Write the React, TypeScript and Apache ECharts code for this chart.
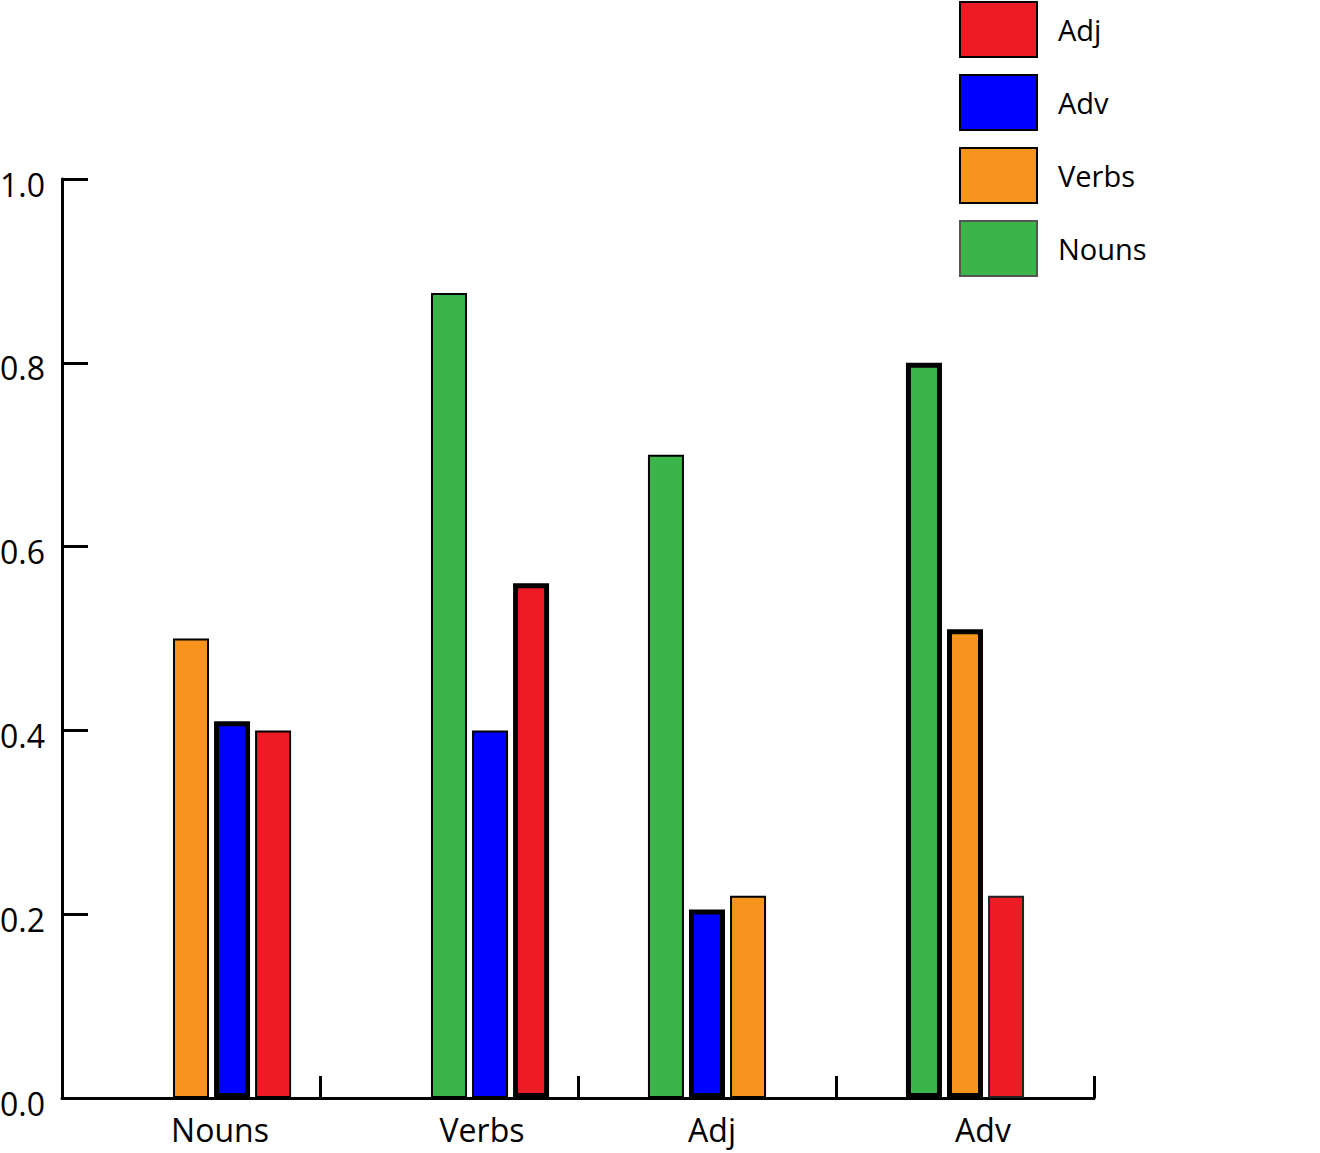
import React, { useEffect, useRef } from "react";
import * as echarts from "echarts";

const categories = ["Nouns", "Verbs", "Adj", "Adv"];
const nounsValues = [null, 0.876, 0.7, 0.8];
const verbsValues = [0.5, null, 0.22, 0.51];
const adjValues = [0.4, 0.56, null, 0.22];
const advValues = [0.41, 0.4, 0.205, null];
const legendOrder = ["Adj", "Adv", "Verbs", "Nouns"];
const yTicks = [0, 0.2, 0.4, 0.6, 0.8, 1.0];

// bar order inside each category group
const groupOrder = [
  ["Verbs", "Adv", "Adj"],
  ["Nouns", "Adv", "Adj"],
  ["Nouns", "Adv", "Verbs"],
  ["Nouns", "Verbs", "Adj"],
];

// layout / style settings (not data)
const SLOT_COUNT = 5;
const groupStartSlot = [2, 2, 1, 1];
const labelShift = [29, 33, 5, 18];
const colors: Record<string, string> = {
  Nouns: "#3BB54A",
  Verbs: "#F7941E",
  Adj: "#ED1C24",
  Adv: "#0000FF",
};
const thickBorder = new Set(["Nouns|Adv", "Verbs|Adj", "Adj|Adv", "Adv|Nouns", "Adv|Verbs"]);
const FONT = "Open Sans";

const valuesByName: Record<string, (number | null)[]> = {
  Nouns: nounsValues,
  Verbs: verbsValues,
  Adj: adjValues,
  Adv: advValues,
};

function buildSlotSeries() {
  const slots: any[] = [];
  for (let s = 0; s < SLOT_COUNT; s++) {
    const data = categories.map((cat, ci) => {
      const idx = s - groupStartSlot[ci];
      const order = groupOrder[ci];
      if (idx < 0 || idx >= order.length) return { value: null };
      const name = order[idx];
      const v = valuesByName[name][ci];
      const thick = thickBorder.has(cat + "|" + name);
      return {
        value: v,
        itemStyle: {
          color: colors[name],
          borderColor: name === "Adj" && cat === "Adv" ? "#222" : "#000",
          borderWidth: thick ? 5 : 2,
        },
      };
    });
    slots.push({
      type: "bar",
      name: "slot" + s,
      xAxisIndex: 0,
      data,
      barWidth: 36,
      barGap: "14%",
      silent: true,
    });
  }
  return slots;
}

export default function App() {
  const ref = useRef<HTMLDivElement>(null);
  useEffect(() => {
    if (!ref.current) return;
    const chart = echarts.init(ref.current, null, { renderer: "svg" });
    const rich: any = {};
    categories.forEach((c, i) => {
      rich["c" + i] = {
        fontFamily: FONT,
        fontSize: 32,
        color: "#000",
        padding: [0, 0, 0, labelShift[i] * 2],
      };
    });
    const legendSeries = legendOrder.map((n) => ({
      type: "bar",
      name: n,
      xAxisIndex: 1,
      data: [],
      itemStyle: { color: colors[n] },
    }));
    chart.setOption({
      animation: false,
      backgroundColor: "#fff",
      grid: {
        left: 62,
        right: 226,
        top: 179,
        bottom: 55,
        containLabel: false,
        outerBoundsMode: "none",
      },
      legend: {
        orient: "vertical",
        left: 959,
        top: 1,
        padding: 0,
        icon: "rect",
        itemWidth: 77,
        itemHeight: 55,
        itemGap: 16,
        textStyle: { fontFamily: FONT, fontSize: 29, color: "#000", padding: [0, 0, 0, 16] },
        data: legendOrder.map((n) => ({
          name: n,
          itemStyle: {
            color: colors[n],
            borderColor: n === "Nouns" ? "#555" : "#000",
            borderWidth: 2,
          },
        })),
        selectedMode: false,
      },
      xAxis: [
        {
          type: "category",
          data: categories,
          boundaryGap: true,
          axisLine: { show: true, lineStyle: { color: "#000", width: 3 } },
          axisTick: {
            show: true,
            interval: 0,
            alignWithLabel: false,
            inside: true,
            length: 22,
            lineStyle: { color: "#000", width: 3 },
          },
          axisLabel: {
            margin: 15,
            interval: 0,
            formatter: (v: string) => {
              const i = categories.indexOf(v);
              return "{c" + i + "|" + v + "}";
            },
            rich,
          },
          splitLine: { show: false },
        },
        { type: "category", data: categories, show: false },
      ],
      yAxis: {
        type: "value",
        min: yTicks[0],
        max: yTicks[yTicks.length - 1],
        interval: 0.2,
        axisLine: { show: true, lineStyle: { color: "#000", width: 3 } },
        axisTick: { show: true, inside: true, length: 26, lineStyle: { color: "#000", width: 3 } },
        axisLabel: {
          margin: 17,
          formatter: (v: number) => "{v|" + v.toFixed(1) + "}",
          rich: {
            v: {
              fontFamily: FONT,
              fontSize: 32,
              color: "#000",
              padding: [10, 0, 0, 0],
            },
          },
        },
        splitLine: { show: false },
      },
      series: [...buildSlotSeries(), ...legendSeries],
    });
    return () => chart.dispose();
  }, []);
  return (
    <div
      ref={ref}
      style={{ position: "fixed", left: 0, top: 0, width: 1320, height: 1153, background: "#fff" }}
    />
  );
}
